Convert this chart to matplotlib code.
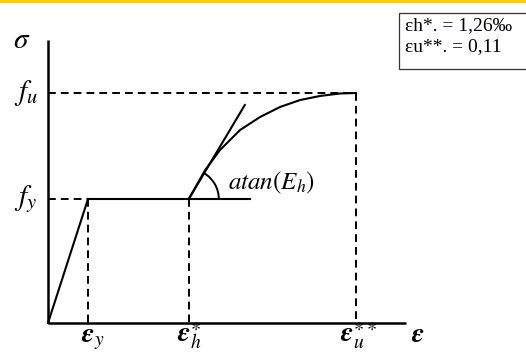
import matplotlib
matplotlib.use("Agg")
import matplotlib.pyplot as plt
from matplotlib.patches import Rectangle, Arc
from matplotlib.transforms import ScaledTranslation

plt.rcParams['mathtext.fontset'] = 'stix'

# characteristic points of the idealised steel stress-strain law (arbitrary units)
eps_y, f_y = 1.0, 1.0
eps_h = 3.52
eps_u, f_u = 7.7, 1.855
eps_plateau_end = 5.05

# strain-hardening branch
hard_eps = [3.52, 3.93, 4.30, 4.80, 5.30, 5.80, 6.30, 6.80, 7.30, 7.70]
hard_sig = [1.00, 1.234, 1.395, 1.556, 1.661, 1.742, 1.798, 1.831, 1.851, 1.855]

# tangent to the hardening branch at eps_h
tan_eps = [eps_h, 4.92]
tan_sig = [f_y, 1.758]

note_lines = ["εh*. = 1,26‰", "εu**. = 0,11"]

fig = plt.figure(figsize=(5.26, 3.52), dpi=100)
ax = fig.add_axes([0, 0, 1, 1])
ax.set_xlim(-1.2, 11.95)
ax.set_ylim(-0.234, 2.605)
ax.axis('off')

# axes
ax.plot([0, 0], [0, 2.28], color='black', lw=1.8, solid_capstyle='butt')
ax.plot([0, 8.95], [0, 0], color='black', lw=1.8, solid_capstyle='butt')

# elastic branch, yield plateau, hardening curve
solid = dict(color='black', lw=1.5)
ax.plot([0, eps_y], [0, f_y], **solid)
ax.plot([eps_y, eps_plateau_end], [f_y, f_y], **solid)
ax.plot(hard_eps, hard_sig, **solid)
ax.plot(tan_eps, tan_sig, **solid)

# guide lines
dash = dict(color='black', lw=1.4, linestyle=(0, (4, 2.6)))
ax.plot([0, eps_u], [f_u, f_u], **dash)
ax.plot([eps_u, eps_u], [f_u, 0], **dash)
ax.plot([0, eps_y], [f_y, f_y], **dash)
ax.plot([eps_y, eps_y], [f_y, 0], **dash)
ax.plot([eps_h, eps_h], [f_y, 0], **dash)

# angle marker between plateau and tangent
tr = fig.dpi_scale_trans + ScaledTranslation(eps_h, f_y, ax.transData)
ax.add_patch(Arc((0, 0), 0.6, 0.6, theta1=0, theta2=59, transform=tr,
                 color='black', lw=1.4))
ax.text(4.5, 1.13, r'$atan(E_h)$', fontsize=18, ha='left', va='center')

# axis labels and characteristic values
lab = dict(fontsize=21, ha='center', va='center')
ax.text(-0.65, 2.28, r'$\sigma$', **lab)
ax.text(-0.55, f_u, r'$f_u$', **lab)
ax.text(-0.55, f_y, r'$f_y$', **lab)
base = dict(fontsize=20, ha='center', va='baseline')
ax.text(eps_y + 0.12, -0.155, r'$\mathbfit{\varepsilon}_y$', **base)
ax.text(eps_h + 0.02, -0.155, r'$\mathbfit{\varepsilon}_h^{\ast}$', **base)
ax.text(eps_u + 0.05, -0.155, r'$\mathbfit{\varepsilon}_u^{\ast\ast}$', **base)
ax.text(9.25, -0.155, r'$\mathbfit{\varepsilon}$', **base)

# note box
fig.patches.append(Rectangle((399 / 526, 1 - 69 / 352), 0.3, 56 / 352,
                             transform=fig.transFigure, facecolor='white',
                             edgecolor='#333333', lw=0.9))
for i, line in enumerate(note_lines):
    fig.text(405 / 526, 1 - (26 + 21 * i) / 352, line, family='Liberation Serif',
             fontsize=14, ha='left', va='center')

# top banner stripe
fig.patches.append(Rectangle((0, 1 - 3 / 352), 1, 3 / 352, transform=fig.transFigure,
                             facecolor='#FFCC00', edgecolor='none'))

fig.savefig('out.png', dpi=100)
